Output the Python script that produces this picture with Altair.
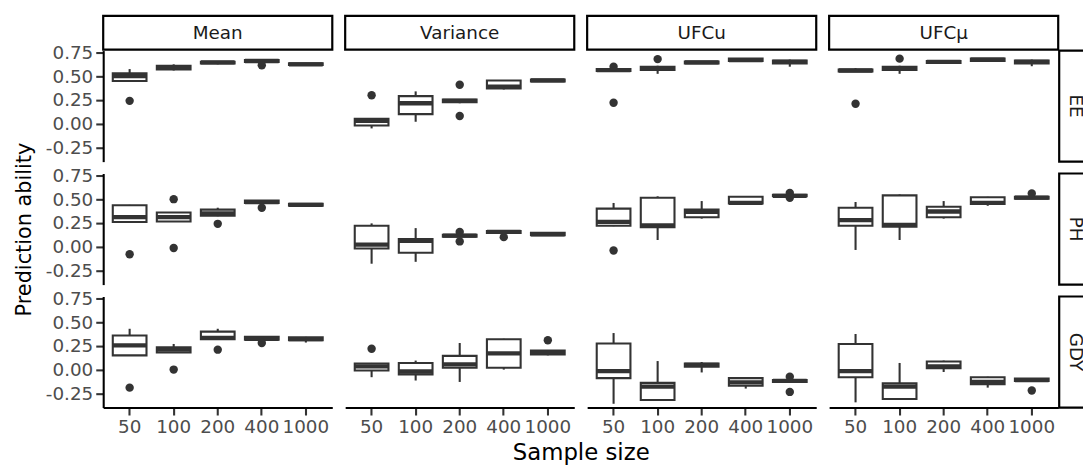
import altair as alt
import pandas as pd

methods = ["Mean", "Variance", "UFCu", "UFCμ"]
traits = ["EE", "PH", "GDY"]
sizes = ["50", "100", "200", "400", "1000"]

# per sample size: [lower whisker, Q1, median, Q3, upper whisker]
ee_mean = [[0.44, 0.45, 0.50, 0.53, 0.575], [0.56, 0.57, 0.59, 0.61, 0.625], [0.625, 0.635, 0.645, 0.652, 0.66], [0.64, 0.65, 0.66, 0.67, 0.675], [0.61, 0.618, 0.625, 0.635, 0.64]]
ee_var = [[-0.05, -0.02, 0.03, 0.05, 0.055], [0.02, 0.10, 0.215, 0.29, 0.34], [0.215, 0.225, 0.24, 0.255, 0.26], [0.36, 0.37, 0.39, 0.455, 0.46], [0.44, 0.445, 0.455, 0.465, 0.47]]
ee_ufcu = [[0.55, 0.555, 0.565, 0.575, 0.58], [0.525, 0.565, 0.585, 0.60, 0.61], [0.63, 0.635, 0.645, 0.655, 0.66], [0.65, 0.66, 0.67, 0.685, 0.69], [0.60, 0.635, 0.65, 0.665, 0.675]]
ee_ufcmu = [[0.545, 0.55, 0.56, 0.57, 0.585], [0.525, 0.565, 0.58, 0.60, 0.61], [0.635, 0.64, 0.65, 0.66, 0.665], [0.655, 0.66, 0.675, 0.685, 0.69], [0.605, 0.635, 0.65, 0.665, 0.675]]

ph_mean = [[0.25, 0.26, 0.31, 0.435, 0.44], [0.26, 0.265, 0.31, 0.36, 0.365], [0.32, 0.325, 0.35, 0.39, 0.41], [0.455, 0.46, 0.47, 0.485, 0.49], [0.425, 0.43, 0.44, 0.45, 0.455]]
ph_var = [[-0.18, -0.02, 0.02, 0.22, 0.245], [-0.16, -0.065, 0.06, 0.08, 0.195], [0.10, 0.105, 0.115, 0.125, 0.13], [0.14, 0.145, 0.155, 0.165, 0.175], [0.115, 0.12, 0.13, 0.145, 0.15]]
ph_ufcu = [[0.215, 0.22, 0.26, 0.40, 0.46], [0.07, 0.205, 0.225, 0.515, 0.53], [0.295, 0.31, 0.365, 0.39, 0.48], [0.45, 0.455, 0.46, 0.525, 0.53], [0.525, 0.53, 0.535, 0.545, 0.55]]
ph_ufcmu = [[-0.035, 0.22, 0.28, 0.41, 0.47], [0.07, 0.21, 0.23, 0.54, 0.55], [0.295, 0.31, 0.37, 0.42, 0.48], [0.43, 0.45, 0.46, 0.52, 0.525], [0.50, 0.505, 0.515, 0.525, 0.53]]

gdy_mean = [[0.145, 0.15, 0.255, 0.36, 0.43], [0.175, 0.18, 0.21, 0.235, 0.27], [0.315, 0.32, 0.335, 0.40, 0.43], [0.31, 0.315, 0.325, 0.345, 0.35], [0.285, 0.31, 0.32, 0.34, 0.345]]
gdy_var = [[-0.08, -0.01, 0.035, 0.065, 0.07], [-0.115, -0.05, -0.02, 0.07, 0.095], [-0.13, 0.02, 0.055, 0.145, 0.28], [0.0, 0.02, 0.17, 0.32, 0.325], [0.15, 0.16, 0.18, 0.20, 0.205]]
gdy_ufcu = [[-0.36, -0.09, -0.015, 0.275, 0.385], [-0.32, -0.32, -0.18, -0.14, 0.09], [-0.03, 0.03, 0.05, 0.065, 0.08], [-0.20, -0.17, -0.135, -0.09, -0.085], [-0.135, -0.13, -0.12, -0.11, -0.10]]
gdy_ufcmu = [[-0.345, -0.08, -0.015, 0.27, 0.375], [-0.31, -0.31, -0.18, -0.145, 0.07], [-0.025, 0.015, 0.035, 0.085, 0.095], [-0.19, -0.155, -0.13, -0.08, -0.075], [-0.125, -0.12, -0.11, -0.095, -0.09]]

# outliers: (sample size, value)
ee_mean_out = [("50", 0.24), ("400", 0.615)]
ee_var_out = [("50", 0.30), ("200", 0.41), ("200", 0.08)]
ee_ufcu_out = [("50", 0.60), ("50", 0.22), ("100", 0.68)]
ee_ufcmu_out = [("50", 0.21), ("100", 0.685)]
ph_mean_out = [("50", -0.08), ("100", 0.50), ("100", -0.015), ("200", 0.24), ("400", 0.41)]
ph_var_out = [("200", 0.155), ("200", 0.055), ("400", 0.10)]
ph_ufcu_out = [("50", -0.04), ("1000", 0.565), ("1000", 0.515)]
ph_ufcmu_out = [("1000", 0.56)]
gdy_mean_out = [("50", -0.19), ("100", 0.0), ("200", 0.21), ("400", 0.28)]
gdy_var_out = [("50", 0.22), ("1000", 0.31)]
gdy_ufcu_out = [("1000", -0.075), ("1000", -0.235)]
gdy_ufcmu_out = [("1000", -0.22)]

y_ticks = [-0.25, 0.0, 0.25, 0.5, 0.75]

stats = {
    ("EE", "Mean"): (ee_mean, ee_mean_out), ("EE", "Variance"): (ee_var, ee_var_out),
    ("EE", "UFCu"): (ee_ufcu, ee_ufcu_out), ("EE", "UFCμ"): (ee_ufcmu, ee_ufcmu_out),
    ("PH", "Mean"): (ph_mean, ph_mean_out), ("PH", "Variance"): (ph_var, ph_var_out),
    ("PH", "UFCu"): (ph_ufcu, ph_ufcu_out), ("PH", "UFCμ"): (ph_ufcmu, ph_ufcmu_out),
    ("GDY", "Mean"): (gdy_mean, gdy_mean_out), ("GDY", "Variance"): (gdy_var, gdy_var_out),
    ("GDY", "UFCu"): (gdy_ufcu, gdy_ufcu_out), ("GDY", "UFCμ"): (gdy_ufcmu, gdy_ufcmu_out),
}

W, H = 231, 112
DARK = "#333333"
FONT = "DejaVu Sans"
yscale = alt.Scale(domain=[-0.40, 0.77], nice=False, zero=False)
xscale = alt.Scale(domain=sizes, paddingInner=0, paddingOuter=0.1)
label_expr = "datum.value < 0 ? '-' + format(-datum.value, '.2f') : format(datum.value, '.2f')"


def panel(r, c):
    trait, method = traits[r], methods[c]
    st, outs = stats[(trait, method)]
    df = pd.DataFrame({
        "size": sizes,
        "lo": [s[0] for s in st], "q1": [s[1] for s in st], "med": [s[2] for s in st],
        "q3": [s[3] for s in st], "hi": [s[4] for s in st],
    })
    odf = pd.DataFrame({"size": [o[0] for o in outs], "v": [o[1] for o in outs]})

    if r == 2:
        if c == 1:
            xa = alt.Axis(title="Sample size", titleX=237.5, titleAnchor="middle", labelAngle=0,
                          titleFontSize=23, titlePadding=5)
        else:
            xa = alt.Axis(title=None, labelAngle=0)
    else:
        xa = None
    if c == 0:
        ya = alt.Axis(title="Prediction ability" if r == 1 else None, values=y_ticks, labelExpr=label_expr,
                      titleFontSize=21, titlePadding=11)
    else:
        ya = None

    def X():
        return alt.X("size:N", sort=sizes, scale=xscale, axis=xa)

    def Y(f):
        return alt.Y(f, type="quantitative", scale=yscale, axis=ya)

    base = alt.Chart(df)
    whisk = base.mark_rule(color=DARK, strokeWidth=2.1).encode(x=X(), y=Y("lo"), y2="hi")
    box = base.mark_bar(fill="white", stroke=DARK, strokeWidth=2.1, size=34).encode(x=X(), y=Y("q1"), y2="q3")
    med = base.mark_tick(color=DARK, thickness=4.3, size=34, opacity=1).encode(x=X(), y=Y("med"))
    pts = alt.Chart(odf).mark_circle(color=DARK, size=72, opacity=1).encode(x=X(), y=Y("v"))
    layers = [whisk, box, med, pts]

    if r == 0:
        sdf = pd.DataFrame({"label": [method]})
        layers.append(alt.Chart(sdf).mark_rect(fill="white", stroke="black", strokeWidth=2.2).encode(
            x=alt.value(0), x2=alt.value(W), y=alt.value(-35), y2=alt.value(-1)))
        layers.append(alt.Chart(sdf).mark_text(font=FONT, fontSize=18.5, color="#1A1A1A").encode(
            x=alt.value(W / 2), y=alt.value(-18), text="label:N"))
    if c == 3:
        rdf = pd.DataFrame({"label": [trait]})
        layers.append(alt.Chart(rdf).mark_rect(fill="white", stroke="black", strokeWidth=2.2).encode(
            x=alt.value(W + 1), x2=alt.value(W + 35), y=alt.value(0), y2=alt.value(H)))
        layers.append(alt.Chart(rdf).mark_text(font=FONT, fontSize=18.5, color="#1A1A1A", angle=90).encode(
            x=alt.value(W + 18), y=alt.value(H / 2), text="label:N"))

    return alt.layer(*layers).properties(width=W, height=H)


panels = [panel(r, c) for r in range(3) for c in range(4)]

chart = alt.concat(
    *panels, columns=4, spacing=alt.RowColnumber(column=13, row=12), bounds="flush"
).properties(
    padding={"left": 5, "top": 4, "right": -12, "bottom": 0}
).configure_view(stroke=None).configure_axis(
    grid=False, domainColor="black", domainWidth=2.1, tickColor=DARK, tickWidth=2.1, tickSize=7.5,
    labelColor="#4D4D4D", labelFont=FONT, labelFontSize=18.5, labelPadding=3,
    titleFont=FONT, titleFontSize=22, titleColor="black", titleFontWeight="normal",
)

chart.save("out.html", embed_options={"renderer": "svg", "actions": False})
